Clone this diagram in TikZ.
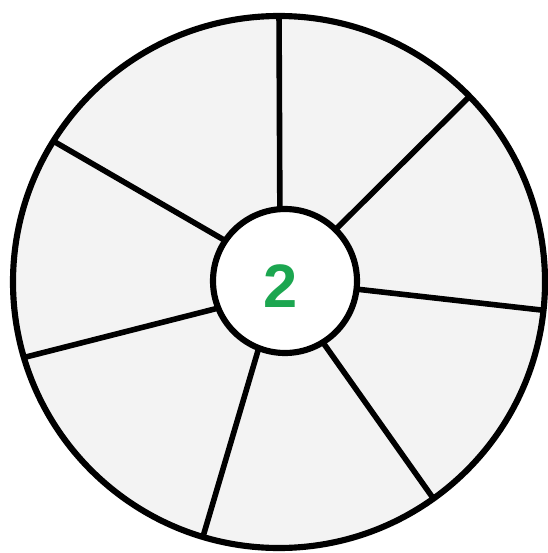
\documentclass[tikz,border=0pt]{standalone}
\usepackage{fontspec}
\setmainfont{Liberation Sans}
\definecolor{cellgray}{RGB}{243,243,243}
\definecolor{numgreen}{RGB}{28,166,80}
\begin{document}
\begin{tikzpicture}[x=0.75pt,y=-0.75pt,
  spoke/.style={line width=4.2pt,black},
  rim/.style={line width=4.6pt,black}]
\useasboundingbox (0,0) rectangle (548,553);
\fill[white] (0,0) rectangle (548,553);
\coordinate (C) at (279,282);
\fill[cellgray] (C) circle (266);
% spokes: outer end, inner end
\coordinate (o1) at (279,10);   \coordinate (i1) at (280,240);
\coordinate (o2) at (475,91);   \coordinate (i2) at (320,245);
\coordinate (o3) at (550,311);  \coordinate (i3) at (320,285);
\coordinate (o4) at (433,498);  \coordinate (i4) at (300,310);
\coordinate (o5) at (202,540);  \coordinate (i5) at (270,310);
\coordinate (o6) at (22,358);   \coordinate (i6) at (250,300);
\coordinate (o7) at (48,138);   \coordinate (i7) at (250,255);
\begin{scope}
\clip (C) circle (266);
\foreach \k in {1,...,7} \draw[spoke] (o\k) -- (i\k);
\end{scope}
\node[circle,draw,rim,fill=white,minimum size=144*0.75pt,inner sep=0pt] (hub) at (285,281) {};
\node[text=numgreen,font=\fontsize{46}{46}\selectfont\bfseries] (num) at (281,286) {2};
\node[circle,draw,rim,minimum size=532*0.75pt,inner sep=0pt] (wheel) at (C) {};
\end{tikzpicture}
\end{document}
